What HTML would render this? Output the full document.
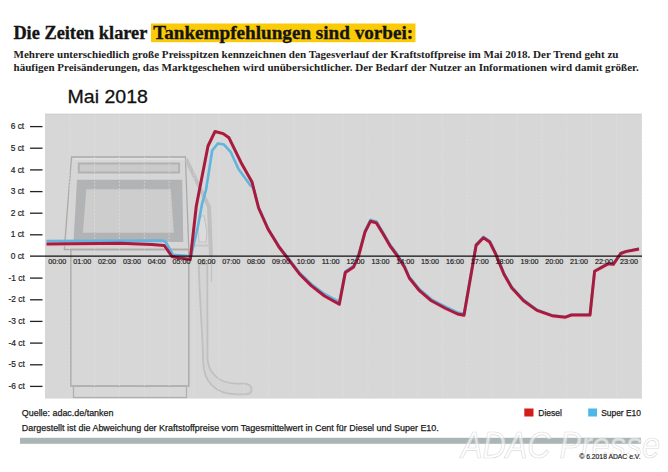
<!DOCTYPE html>
<html><head><meta charset="utf-8">
<style>
html,body{margin:0;padding:0;background:#fff;}
body{width:668px;height:472px;overflow:hidden;position:relative;}
svg{position:absolute;left:0;top:0;}
</style></head><body>
<svg width="668" height="472" viewBox="0 0 668 472">
<rect x="0" y="0" width="668" height="472" fill="#ffffff"/>
<!-- title -->
<rect x="151" y="23.5" width="264.5" height="18.7" fill="#fbcb08"/>
<g font-family="Liberation Serif" font-weight="bold" font-size="19.2" fill="#141414" stroke="#141414" stroke-width="0.35">
<text x="13.4" y="38.6" textLength="134" lengthAdjust="spacingAndGlyphs">Die Zeiten klarer</text>
<text x="153.2" y="38.6" textLength="260" lengthAdjust="spacingAndGlyphs">Tankempfehlungen sind vorbei:</text>
</g>
<g font-family="Liberation Serif" font-weight="bold" font-size="10.6" fill="#222">
<text x="13.5" y="58" textLength="605" lengthAdjust="spacingAndGlyphs">Mehrere unterschiedlich große Preisspitzen kennzeichnen den Tagesverlauf der Kraftstoffpreise im Mai 2018. Der Trend geht zu</text>
<text x="13.5" y="71.4" textLength="625.2" lengthAdjust="spacingAndGlyphs">häufigen Preisänderungen, das Marktgeschehen wird unübersichtlicher. Der Bedarf der Nutzer an Informationen wird damit größer.</text>
</g>
<text x="67.6" y="103.4" font-family="Liberation Sans" font-size="19" fill="#111" stroke="#111" stroke-width="0.3" textLength="80.3" lengthAdjust="spacingAndGlyphs">Mai 2018</text>
<!-- chart bg -->
<rect x="45" y="113.8" width="597" height="284.8" fill="#d7d7d7"/><line x1="45" y1="114.3" x2="642" y2="114.3" stroke="#cecece" stroke-width="1"/>
<!-- pump -->
<g>
  <polygon points="71.5,157 185.4,157 188.8,249.5 64.3,249.5" fill="#d6d6d6" stroke="#aaaaaa" stroke-width="1.3"/>
  <polyline points="74,159 185,159" fill="none" stroke="#e0e0e0" stroke-width="1.5"/>
  <polyline points="186,159 209,207 211,256" fill="none" stroke="#c0c0c0" stroke-width="4"/>
  <line x1="211.5" y1="256" x2="211.5" y2="282" stroke="#c2c2c2" stroke-width="1.3"/>
  <path d="M199,242 L198,226 Q200,214 204,216 L207,232 L206,242 Z" fill="#dcdcdc" stroke="#c4c4c4" stroke-width="1.2"/>
  <line x1="189" y1="245.5" x2="211" y2="245.5" stroke="#c6c6c6" stroke-width="2"/>
  <rect x="78.8" y="163.5" width="100.3" height="9" fill="#cacaca" stroke="#b2b2b2" stroke-width="2"/>
  <polygon points="77,179.8 182.2,179.8 183.3,242 73.5,242" fill="#b1b3b4"/>
  <polygon points="86.3,189.3 170.8,189.3 173.8,232.8 82.9,232.8" fill="#cdcdcd"/>
  <rect x="70.8" y="249.5" width="118" height="136.5" fill="none" stroke="#ababab" stroke-width="1.5"/>
  <rect x="73.5" y="386" width="113" height="11.5" fill="none" stroke="#b0b0b0" stroke-width="1.3"/>
  <path d="M198.8,264 C199.5,300 202.5,330 203.2,362 C203.5,382 216,394.3 236,394.3 L246,394.3 Q251.8,394 251.6,389.2 Q251.2,384 244,383.6 L236,383.6 C220,383 208,374 207.5,358 L207.3,264 Z" fill="#d4d4d4" stroke="#c0c0c0" stroke-width="1.8"/>
</g>
<!-- grid -->
<g stroke="#e2e2e2" stroke-width="0.6" stroke-dasharray="2,1.5"><line x1="69.7" y1="114.5" x2="69.7" y2="398.5"/><line x1="94.6" y1="114.5" x2="94.6" y2="398.5"/><line x1="119.4" y1="114.5" x2="119.4" y2="398.5"/><line x1="144.3" y1="114.5" x2="144.3" y2="398.5"/><line x1="169.1" y1="114.5" x2="169.1" y2="398.5"/><line x1="194.0" y1="114.5" x2="194.0" y2="398.5"/><line x1="218.8" y1="114.5" x2="218.8" y2="398.5"/><line x1="243.7" y1="114.5" x2="243.7" y2="398.5"/><line x1="268.5" y1="114.5" x2="268.5" y2="398.5"/><line x1="293.4" y1="114.5" x2="293.4" y2="398.5"/><line x1="318.2" y1="114.5" x2="318.2" y2="398.5"/><line x1="343.1" y1="114.5" x2="343.1" y2="398.5"/><line x1="367.9" y1="114.5" x2="367.9" y2="398.5"/><line x1="392.8" y1="114.5" x2="392.8" y2="398.5"/><line x1="417.6" y1="114.5" x2="417.6" y2="398.5"/><line x1="442.5" y1="114.5" x2="442.5" y2="398.5"/><line x1="467.3" y1="114.5" x2="467.3" y2="398.5"/><line x1="492.2" y1="114.5" x2="492.2" y2="398.5"/><line x1="517.0" y1="114.5" x2="517.0" y2="398.5"/><line x1="541.9" y1="114.5" x2="541.9" y2="398.5"/><line x1="566.7" y1="114.5" x2="566.7" y2="398.5"/><line x1="591.6" y1="114.5" x2="591.6" y2="398.5"/><line x1="616.4" y1="114.5" x2="616.4" y2="398.5"/><line x1="641.3" y1="114.5" x2="641.3" y2="398.5"/></g>
<!-- lines -->
<polyline points="46.5,241.0 163.0,240.6 165.7,242.0 173.0,254.7 188.0,256.0 191.0,256.5 197.8,227.0 202.2,203.3 206.0,190.0 212.2,150.5 218.0,143.4 224.0,144.6 230.8,152.2 238.5,169.0 250.3,185.3 253.6,188.1 258.6,207.5 268.0,228.4 279.0,246.2 290.4,260.9 299.3,272.5 311.2,284.0 324.5,294.0 339.3,301.9 345.3,271.6 353.6,265.8 358.6,254.6 365.0,230.8 370.5,219.9 376.4,221.6 383.2,232.7 390.0,244.6 396.8,253.8 404.4,265.7 409.3,276.7 419.5,289.2 431.4,299.3 445.8,307.0 457.6,312.5 464.0,313.8 476.1,244.4 483.4,236.8 489.7,241.1 495.6,253.0 504.0,273.3 511.7,286.9 523.6,299.9 537.0,309.8 552.0,315.4 565.4,317.0 571.4,314.8 590.0,314.8 594.6,271.1 604.8,265.4 608.6,263.5 613.3,264.1 620.7,253.3 625.7,251.4 639.0,248.8" fill="none" stroke="#60b4de" stroke-width="2.6" stroke-linejoin="round"/>
<polyline points="46.5,245.6 70.0,245.4 100.0,245.0 120.0,244.8 152.0,246.1 164.3,247.1 172.0,258.1 180.0,259.6 190.3,261.1 196.3,207.6 208.0,147.6 215.0,133.1 223.2,135.2 229.0,139.4 241.0,164.0 252.0,183.5 253.6,190.1 258.6,209.6 268.0,230.6 279.0,248.6 290.4,263.5 299.3,275.3 311.2,287.2 324.5,297.6 339.3,305.8 345.3,274.2 353.6,268.6 358.6,257.6 365.0,233.8 370.5,222.8 376.4,224.5 383.2,235.6 390.0,247.4 396.8,256.6 404.4,268.6 409.3,279.6 419.5,292.3 431.4,302.4 445.8,310.1 457.6,315.6 464.0,316.9 476.1,247.0 483.4,239.4 489.7,243.6 495.6,255.5 504.0,275.8 511.7,289.4 523.6,302.3 537.0,312.0 552.0,317.3 565.4,318.8 571.4,316.6 590.0,316.6 594.6,272.9 604.8,267.2 608.6,265.3 613.3,265.9 620.7,255.1 625.7,253.2 639.0,250.6" fill="none" stroke="#f0c0c8" stroke-width="2.2" stroke-linejoin="round" opacity="0.7"/>
<polyline points="46.5,244.0 70.0,243.8 100.0,243.4 120.0,243.2 152.0,244.5 164.3,245.5 172.0,256.5 180.0,258.0 190.3,259.5 196.3,206.0 208.0,146.0 215.0,131.5 223.2,133.6 229.0,137.8 241.0,162.4 252.0,181.9 253.6,188.5 258.6,208.0 268.0,229.0 279.0,247.0 290.4,261.9 299.3,273.7 311.2,285.6 324.5,296.0 339.3,304.2 345.3,272.6 353.6,267.0 358.6,256.0 365.0,232.2 370.5,221.2 376.4,222.9 383.2,234.0 390.0,245.8 396.8,255.0 404.4,267.0 409.3,278.0 419.5,290.7 431.4,300.8 445.8,308.5 457.6,314.0 464.0,315.3 476.1,245.4 483.4,237.8 489.7,242.0 495.6,253.9 504.0,274.2 511.7,287.8 523.6,300.7 537.0,310.4 552.0,315.7 565.4,317.2 571.4,315.0 590.0,315.0 594.6,271.3 604.8,265.6 608.6,263.7 613.3,264.3 620.7,253.5 625.7,251.6 639.0,249.0" fill="none" stroke="#a61b3e" stroke-width="3" stroke-linejoin="round"/>
<!-- zero line -->
<line x1="30" y1="256.1" x2="642" y2="256.1" stroke="#111" stroke-width="1.15"/>
<g stroke="#222" stroke-width="1.3"><line x1="30" y1="126.6" x2="42.5" y2="126.6"/><line x1="30" y1="148.2" x2="42.5" y2="148.2"/><line x1="30" y1="169.9" x2="42.5" y2="169.9"/><line x1="30" y1="191.6" x2="42.5" y2="191.6"/><line x1="30" y1="213.2" x2="42.5" y2="213.2"/><line x1="30" y1="234.8" x2="42.5" y2="234.8"/><line x1="30" y1="278.1" x2="42.5" y2="278.1"/><line x1="30" y1="299.8" x2="42.5" y2="299.8"/><line x1="30" y1="321.4" x2="42.5" y2="321.4"/><line x1="30" y1="343.1" x2="42.5" y2="343.1"/><line x1="30" y1="364.8" x2="42.5" y2="364.8"/><line x1="30" y1="386.4" x2="42.5" y2="386.4"/></g>
<g font-family="Liberation Sans" font-size="8.4" fill="#1e1e1e" stroke="#1e1e1e" stroke-width="0.2"><text x="10.7" y="129.2">6 ct</text><text x="10.7" y="150.8">5 ct</text><text x="10.7" y="172.5">4 ct</text><text x="10.7" y="194.2">3 ct</text><text x="10.7" y="215.8">2 ct</text><text x="10.7" y="237.4">1 ct</text><text x="10.7" y="259.1">0 ct</text><text x="8.5" y="280.8">-1 ct</text><text x="8.5" y="302.4">-2 ct</text><text x="8.5" y="324.1">-3 ct</text><text x="8.5" y="345.7">-4 ct</text><text x="8.5" y="367.4">-5 ct</text><text x="8.5" y="389.0">-6 ct</text></g>
<g font-family="Liberation Sans" font-size="8" fill="#1a1a1a" stroke="#1a1a1a" stroke-width="0.18"><text x="57.3" y="263.9" text-anchor="middle" textLength="18" lengthAdjust="spacingAndGlyphs">00:00</text><text x="82.2" y="263.9" text-anchor="middle" textLength="18" lengthAdjust="spacingAndGlyphs">01:00</text><text x="107.0" y="263.9" text-anchor="middle" textLength="18" lengthAdjust="spacingAndGlyphs">02:00</text><text x="131.9" y="263.9" text-anchor="middle" textLength="18" lengthAdjust="spacingAndGlyphs">03:00</text><text x="156.7" y="263.9" text-anchor="middle" textLength="18" lengthAdjust="spacingAndGlyphs">04:00</text><text x="181.6" y="263.9" text-anchor="middle" textLength="18" lengthAdjust="spacingAndGlyphs">05:00</text><text x="206.4" y="263.9" text-anchor="middle" textLength="18" lengthAdjust="spacingAndGlyphs">06:00</text><text x="231.2" y="263.9" text-anchor="middle" textLength="18" lengthAdjust="spacingAndGlyphs">07:00</text><text x="256.1" y="263.9" text-anchor="middle" textLength="18" lengthAdjust="spacingAndGlyphs">08:00</text><text x="280.9" y="263.9" text-anchor="middle" textLength="18" lengthAdjust="spacingAndGlyphs">09:00</text><text x="305.8" y="263.9" text-anchor="middle" textLength="18" lengthAdjust="spacingAndGlyphs">10:00</text><text x="330.7" y="263.9" text-anchor="middle" textLength="18" lengthAdjust="spacingAndGlyphs">11:00</text><text x="355.5" y="263.9" text-anchor="middle" textLength="18" lengthAdjust="spacingAndGlyphs">12:00</text><text x="380.4" y="263.9" text-anchor="middle" textLength="18" lengthAdjust="spacingAndGlyphs">13:00</text><text x="405.2" y="263.9" text-anchor="middle" textLength="18" lengthAdjust="spacingAndGlyphs">14:00</text><text x="430.1" y="263.9" text-anchor="middle" textLength="18" lengthAdjust="spacingAndGlyphs">15:00</text><text x="454.9" y="263.9" text-anchor="middle" textLength="18" lengthAdjust="spacingAndGlyphs">16:00</text><text x="479.8" y="263.9" text-anchor="middle" textLength="18" lengthAdjust="spacingAndGlyphs">17:00</text><text x="504.6" y="263.9" text-anchor="middle" textLength="18" lengthAdjust="spacingAndGlyphs">18:00</text><text x="529.5" y="263.9" text-anchor="middle" textLength="18" lengthAdjust="spacingAndGlyphs">19:00</text><text x="554.3" y="263.9" text-anchor="middle" textLength="18" lengthAdjust="spacingAndGlyphs">20:00</text><text x="579.1" y="263.9" text-anchor="middle" textLength="18" lengthAdjust="spacingAndGlyphs">21:00</text><text x="604.0" y="263.9" text-anchor="middle" textLength="18" lengthAdjust="spacingAndGlyphs">22:00</text><text x="628.9" y="263.9" text-anchor="middle" textLength="18" lengthAdjust="spacingAndGlyphs">23:00</text></g>
<!-- footer -->
<g font-family="Liberation Sans" font-size="9.3" fill="#1a1a1a" stroke="#1a1a1a" stroke-width="0.25">
<text x="21.8" y="416.2" textLength="91.6" lengthAdjust="spacingAndGlyphs">Quelle: adac.de/tanken</text>
<text x="21.8" y="431" textLength="417" lengthAdjust="spacingAndGlyphs">Dargestellt ist die Abweichung der Kraftstoffpreise vom Tagesmittelwert in Cent für Diesel und Super E10.</text>
<text x="538.3" y="415.8" textLength="23.7" lengthAdjust="spacingAndGlyphs">Diesel</text>
<text x="601.2" y="415.8" textLength="39.8" lengthAdjust="spacingAndGlyphs">Super E10</text>
</g>
<rect x="524.3" y="408.5" width="9.2" height="8" fill="#d51c1c"/>
<rect x="588.2" y="408.5" width="8.8" height="8" fill="#4db8e8"/>
<rect x="20" y="437.8" width="621" height="6" fill="#aab5b5"/>
<text x="461" y="458" font-family="Liberation Sans" font-style="italic" font-size="37" fill="#ffffff" fill-opacity="0.6" stroke="#d2d2d2" stroke-width="0.7" stroke-opacity="0.8" textLength="199" lengthAdjust="spacingAndGlyphs">ADAC Presse</text>
<text x="579.3" y="458.5" font-family="Liberation Sans" font-size="7" fill="#222" stroke="#222" stroke-width="0.15" textLength="61.3" lengthAdjust="spacingAndGlyphs">© 6.2018 ADAC e.V.</text>
</svg>
</body></html>
